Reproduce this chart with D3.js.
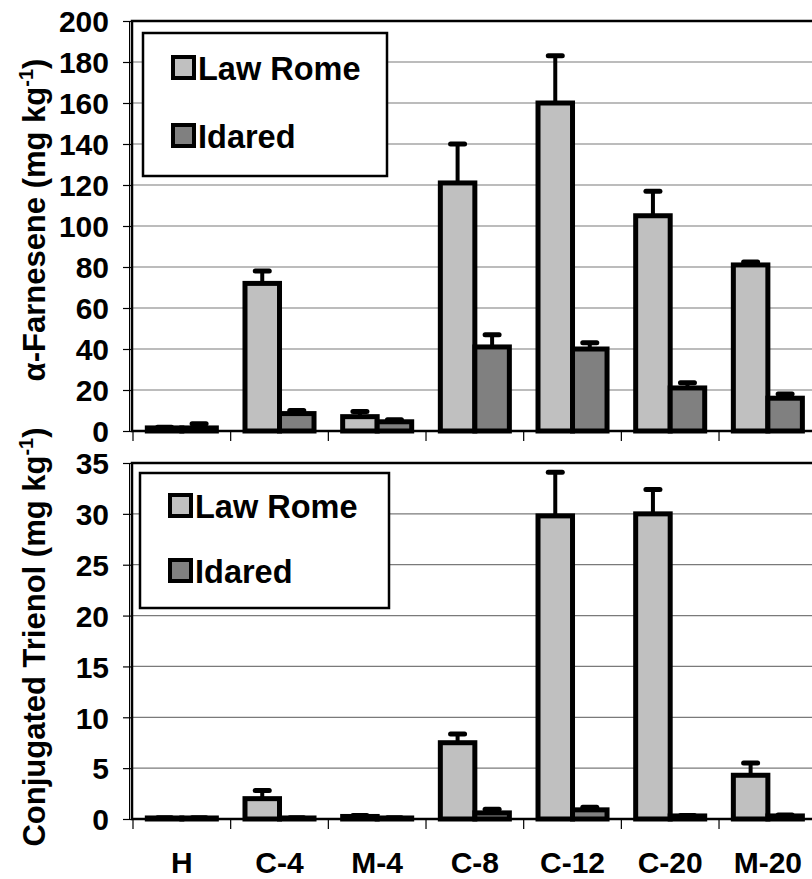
<!DOCTYPE html>
<html>
<head>
<meta charset="utf-8">
<script src="https://cdn.jsdelivr.net/npm/d3@7"></script>
<style>
  body { margin: 0; background: #fff; }
  svg text { font-family: Arial, "Liberation Sans", sans-serif; font-weight: bold; fill: #000; }
</style>
</head>
<body>
<div id="chart"></div>
<script>
// data
const categories = ["H", "C-4", "M-4", "C-8", "C-12", "C-20", "M-20"];
const series = ["Law Rome", "Idared"];
const seriesFill = ["#c0c0c0", "#808080"];

const farneseneLawRome = [1.5, 72, 7, 121, 160, 105, 81];
const farneseneLawRomeErr = [0.3, 6, 2.5, 19, 23, 12, 1.5];
const farneseneIdared = [1.5, 8.5, 4.5, 41, 40, 21, 16];
const farneseneIdaredErr = [2, 1.5, 1, 6, 3, 2.5, 2];
const farneseneTicks = [0, 20, 40, 60, 80, 100, 120, 140, 160, 180, 200];

const trienolLawRome = [0.1, 2.0, 0.25, 7.5, 29.8, 30.0, 4.3];
const trienolLawRomeErr = [0.02, 0.8, 0.1, 0.85, 4.3, 2.4, 1.2];
const trienolIdared = [0.1, 0.1, 0.1, 0.6, 0.9, 0.3, 0.3];
const trienolIdaredErr = [0.02, 0.02, 0.02, 0.35, 0.25, 0.05, 0.1];
const trienolTicks = [0, 5, 10, 15, 20, 25, 30, 35];

(function () {
    const W = 812, H = 879, X0 = 133, X1 = 816.7;
    const svg = d3.select("#chart").append("svg").attr("width", W).attr("height", H);

    const x = d3.scaleBand().domain(categories).range([X0, X1]).padding(0);
    const xs = d3.scaleBand().domain(series).range([0, x.bandwidth()]).paddingInner(0).paddingOuter(0.415);

    function panel(o) {
        const y = d3.scaleLinear().domain(o.domain).range([o.bottom, o.top]);
        const g = svg.append("g");

        // gridlines
        g.append("g").selectAll("line").data(o.ticks.slice(1)).join("line")
            .attr("x1", X0).attr("x2", W).attr("y1", d => y(d)).attr("y2", d => y(d))
            .attr("stroke", "#7a7a7a").attr("stroke-width", 1.2);

        // y axis
        const ya = g.append("g").attr("transform", `translate(${X0},0)`)
            .call(d3.axisLeft(y).tickValues(o.ticks).tickSize(10).tickPadding(14));
        ya.select(".domain").remove();
        ya.selectAll(".tick line").attr("stroke", "#000").attr("stroke-width", 1.2);
        ya.selectAll(".tick text").attr("font-size", 30).attr("font-family", null).attr("dy", "0.36em");

        // x axis ticks
        g.append("g").selectAll("line").data(categories).join("line")
            .attr("x1", d => x(d)).attr("x2", d => x(d))
            .attr("y1", o.bottom).attr("y2", o.bottom + 10)
            .attr("stroke", "#000").attr("stroke-width", 1.2);

        // plot frame
        g.append("rect").attr("x", X0 - 1).attr("y", o.top).attr("width", W)
            .attr("height", o.bottom - o.top).attr("fill", "none")
            .attr("stroke", "#000").attr("stroke-width", 2.5);
        g.append("line").attr("x1", X0 - 3.5).attr("x2", X0 - 3.5).attr("y1", o.top).attr("y2", o.bottom)
            .attr("stroke", "#000").attr("stroke-width", 1);

        // bars
        const rows = categories.map((c, i) => series.map((s, k) => ({
            c, s, k, v: o.values[k][i], e: o.errors[k][i]
        })));
        const grp = g.append("g").selectAll("g").data(rows).join("g")
            .attr("transform", d => `translate(${x(d[0].c)},0)`);
        grp.selectAll("rect").data(d => d).join("rect")
            .attr("x", d => xs(d.s)).attr("width", xs.bandwidth())
            .attr("y", d => y(d.v)).attr("height", d => y(0) - y(d.v))
            .attr("fill", d => seriesFill[d.k]).attr("stroke", "#000").attr("stroke-width", 5);
        // error bars (upper only)
        grp.selectAll("line.err").data(d => d).join("line").attr("class", "err")
            .attr("x1", d => xs(d.s) + xs.bandwidth() / 2).attr("x2", d => xs(d.s) + xs.bandwidth() / 2)
            .attr("y1", d => y(d.v)).attr("y2", d => y(d.v + d.e))
            .attr("stroke", "#000").attr("stroke-width", 4);
        grp.selectAll("line.cap").data(d => d).join("line").attr("class", "cap")
            .attr("x1", d => xs(d.s) + xs.bandwidth() / 2 - 7).attr("x2", d => xs(d.s) + xs.bandwidth() / 2 + 7)
            .attr("y1", d => y(d.v + d.e)).attr("y2", d => y(d.v + d.e))
            .attr("stroke", "#000").attr("stroke-width", 5).attr("stroke-linecap", "round");

        // legend
        const lg = g.append("g");
        lg.append("rect").attr("x", o.legend.x).attr("y", o.legend.y).attr("width", o.legend.w).attr("height", o.legend.h)
            .attr("fill", "#fff").attr("stroke", "#000").attr("stroke-width", 2.5);
        series.forEach((s, k) => {
            const by = o.legend.base[k];
            lg.append("rect").attr("x", o.legend.x + 30).attr("y", by - 23).attr("width", 21).attr("height", 21)
                .attr("fill", seriesFill[k]).attr("stroke", "#000").attr("stroke-width", 4);
            lg.append("text").attr("x", o.legend.x + 55).attr("y", by).attr("font-size", 32.5).text(s);
        });

        // y title
        const t = svg.append("text").attr("transform", `translate(${o.titleX},${o.titleY}) rotate(-90)`)
            .attr("text-anchor", "middle").attr("font-size", 31);
        t.append("tspan").text(o.title);
        t.append("tspan").attr("font-size", 20).attr("dy", -12).text("-1");
        t.append("tspan").attr("dy", 12).text(")");
        return y;
    }

    panel({
        domain: [0, 200], top: 21, bottom: 431, ticks: farneseneTicks,
        values: [farneseneLawRome, farneseneIdared], errors: [farneseneLawRomeErr, farneseneIdaredErr],
        legend: { x: 143, y: 33, w: 244, h: 143, base: [80, 148] },
        title: "\u03b1-Farnesene (mg kg", titleX: 45, titleY: 220
    });
    panel({
        domain: [0, 35], top: 463, bottom: 819, ticks: trienolTicks,
        values: [trienolLawRome, trienolIdared], errors: [trienolLawRomeErr, trienolIdaredErr],
        legend: { x: 140, y: 473, w: 249, h: 135, base: [518, 583] },
        title: "Conjugated Trienol (mg kg", titleX: 45, titleY: 637
    });

    // category labels under bottom panel
    svg.append("g").selectAll("text").data(categories).join("text")
        .attr("x", d => x(d) + x.bandwidth() / 2).attr("y", 873)
        .attr("text-anchor", "middle").attr("font-size", 30).text(d => d);
})();
</script>
</body>
</html>
